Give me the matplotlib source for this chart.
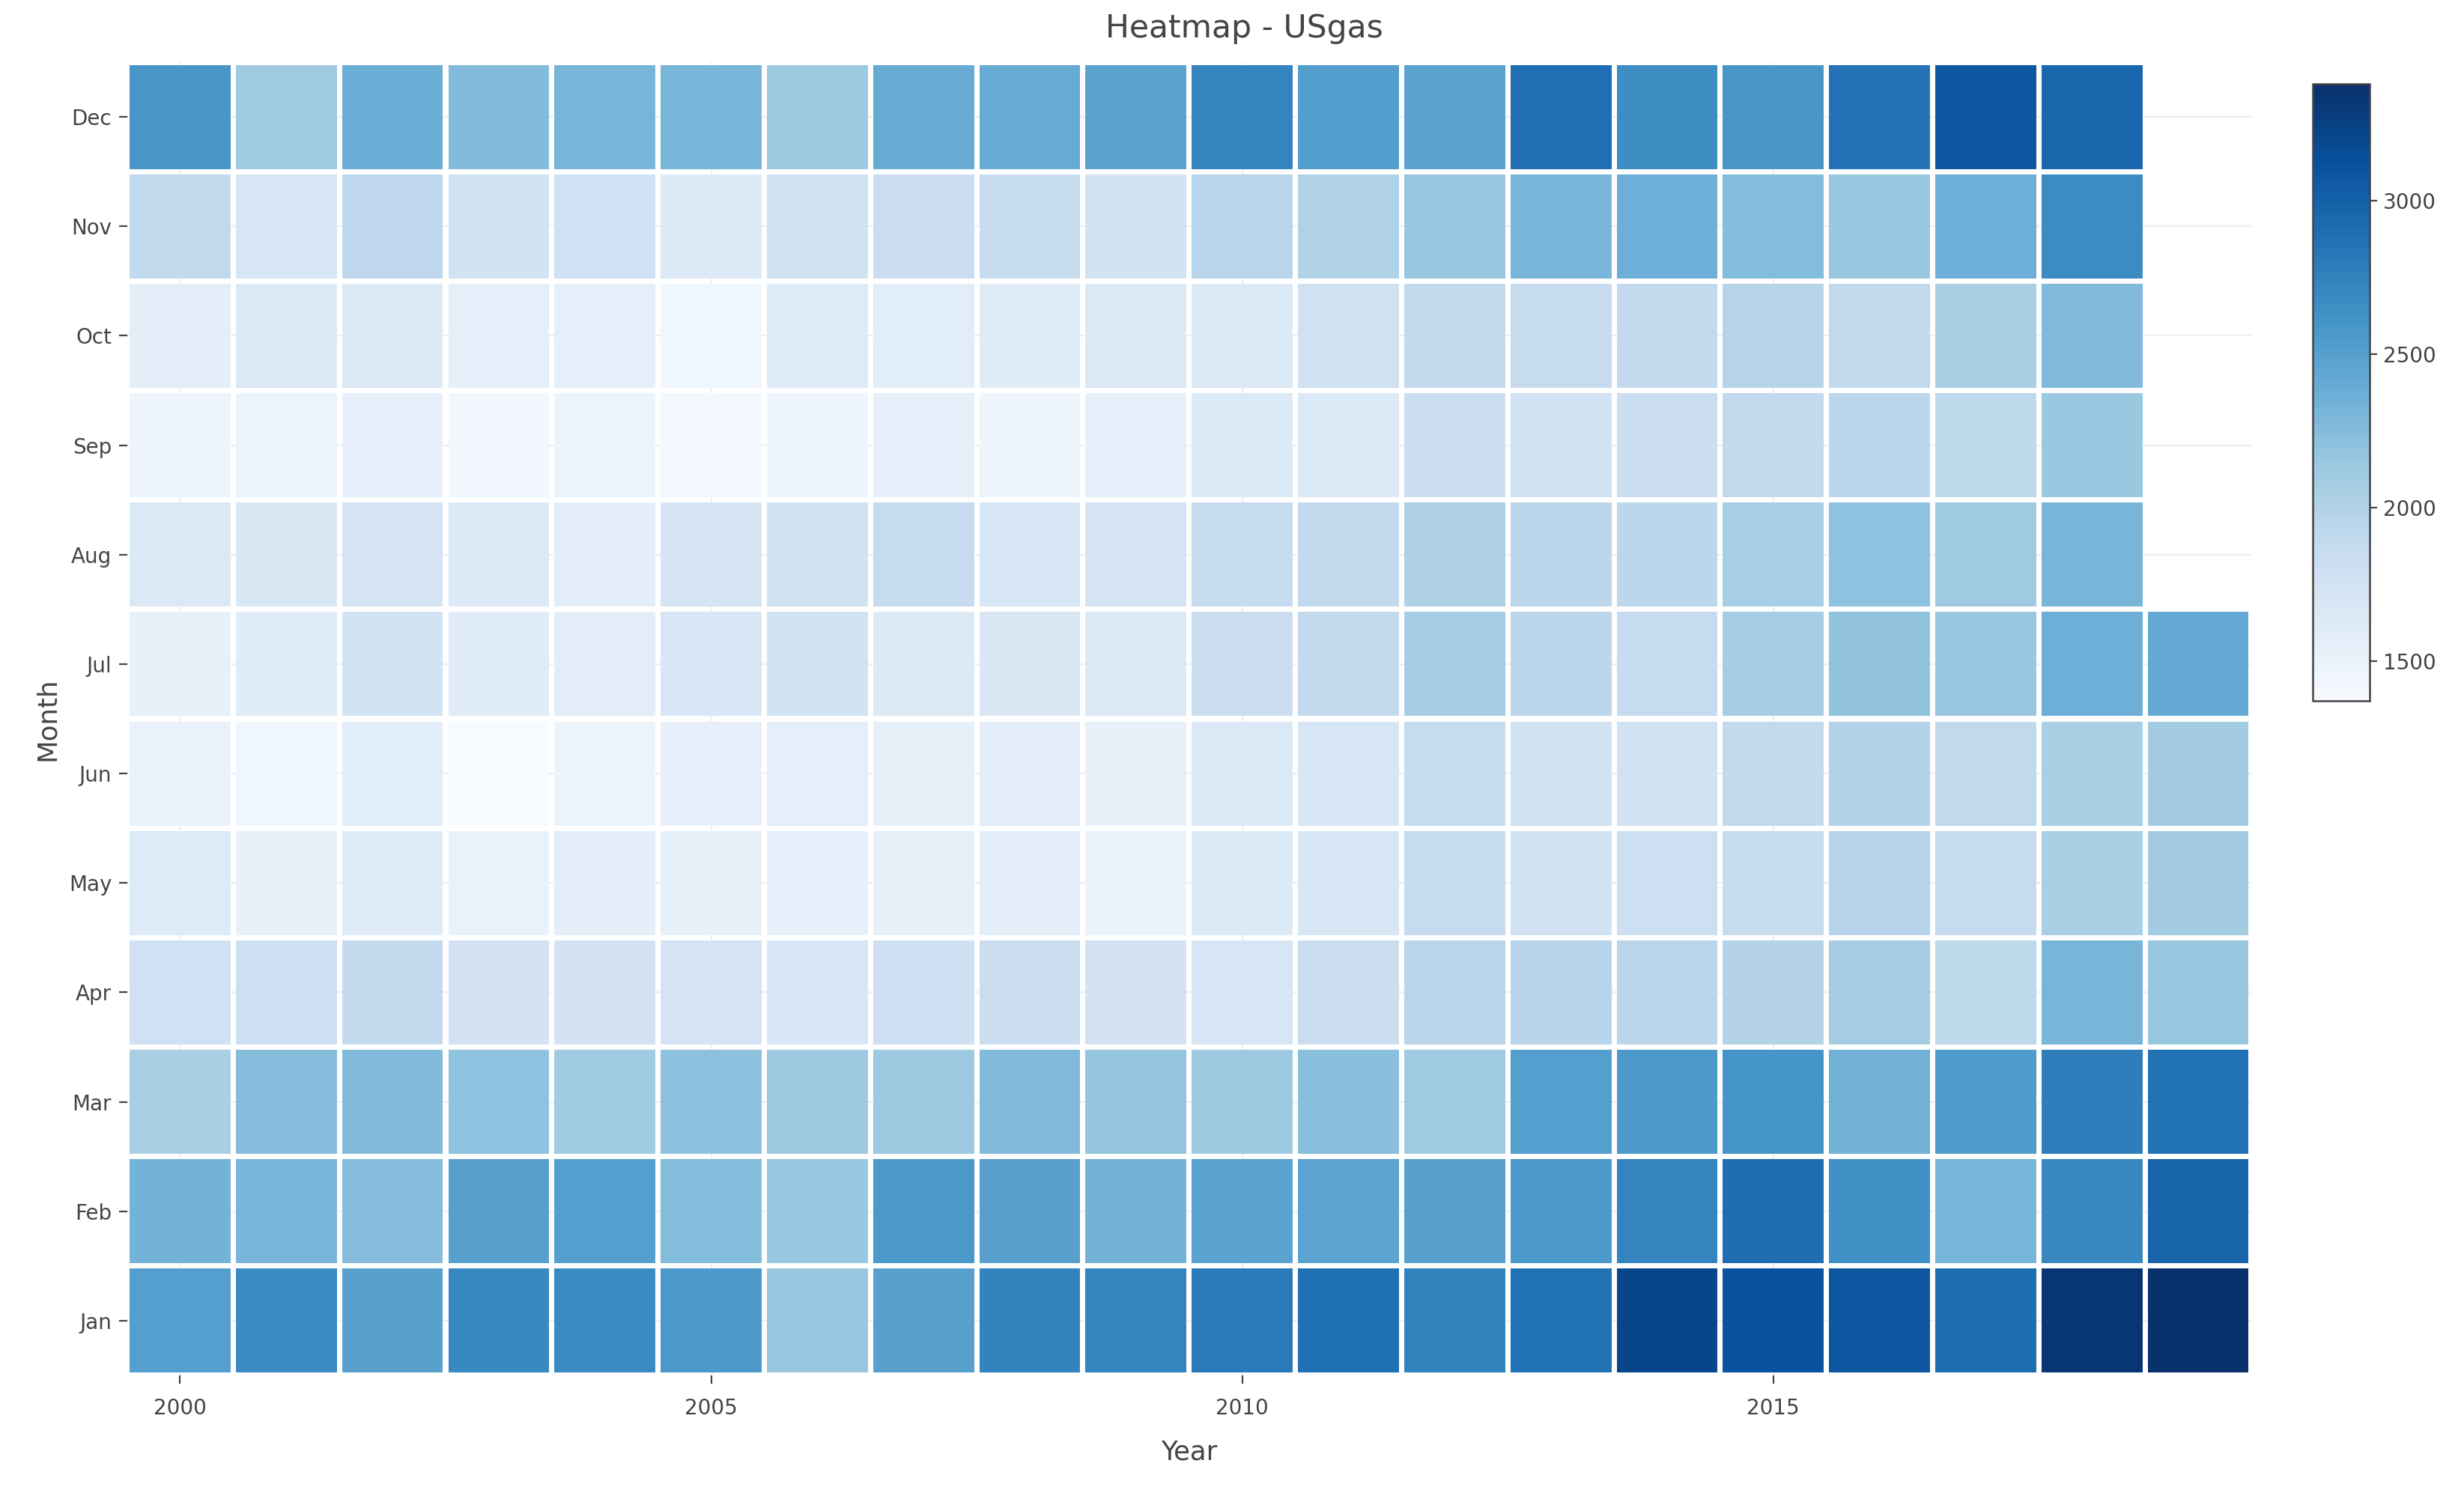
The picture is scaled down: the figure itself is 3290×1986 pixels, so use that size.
import numpy as np
import matplotlib
matplotlib.use("Agg")
import matplotlib.pyplot as plt
from matplotlib.colors import Normalize
from matplotlib.cm import ScalarMappable

# ---------------- data (USgas, monthly consumption) ----------------
years = list(range(2000, 2020))
months = ["Jan", "Feb", "Mar", "Apr", "May", "Jun",
          "Jul", "Aug", "Sep", "Oct", "Nov", "Dec"]
nan = np.nan
jan = [2510, 2677, 2488, 2700, 2676, 2570, 2150, 2490, 2740, 2730,
       2810, 2880, 2750, 2870, 3220, 3120, 3080, 2900, 3330, 3380]
feb = [2331, 2310, 2242, 2500, 2511, 2250, 2140, 2570, 2500, 2330,
       2480, 2470, 2500, 2570, 2730, 2900, 2640, 2320, 2710, 2970]
mar = [2051, 2247, 2258, 2198, 2103, 2210, 2130, 2130, 2270, 2170,
       2130, 2230, 2120, 2510, 2560, 2600, 2350, 2540, 2780, 2870]
apr = [1783, 1807, 1881, 1744, 1745, 1730, 1690, 1790, 1830, 1740,
       1700, 1830, 1960, 1970, 1950, 1990, 2090, 1920, 2320, 2160]
may = [1633, 1522, 1612, 1515, 1573, 1530, 1540, 1545, 1575, 1510,
       1640, 1690, 1880, 1760, 1800, 1860, 1970, 1880, 2060, 2100]
jun = [1513, 1444, 1591, 1370, 1484, 1540, 1560, 1550, 1580, 1520,
       1660, 1690, 1880, 1760, 1760, 1900, 2000, 1910, 2060, 2100]
jul = [1526, 1598, 1748, 1601, 1585, 1690, 1750, 1640, 1680, 1650,
       1830, 1890, 2080, 1940, 1880, 2080, 2190, 2140, 2360, 2420]
aug = [1653, 1669, 1726, 1652, 1578, 1720, 1760, 1880, 1690, 1730,
       1880, 1895, 2030, 1940, 1940, 2075, 2200, 2120, 2310, nan]
sep = [1475, 1494, 1542, 1429, 1482, 1420, 1470, 1560, 1460, 1540,
       1650, 1650, 1810, 1760, 1830, 1890, 1940, 1920, 2140, nan]
oct_ = [1568, 1649, 1646, 1553, 1556, 1450, 1630, 1590, 1620, 1660,
        1660, 1770, 1890, 1870, 1890, 1980, 1910, 2050, 2270, nan]
nov = [1909, 1701, 1914, 1754, 1786, 1650, 1760, 1820, 1860, 1750,
       1960, 2010, 2150, 2300, 2360, 2250, 2150, 2365, 2670, nan]
dec = [2588, 2120, 2379, 2264, 2310, 2310, 2130, 2400, 2400, 2480,
       2730, 2520, 2480, 2890, 2650, 2590, 2860, 3070, 2950, nan]
rows = [jan, feb, mar, apr, may, jun, jul, aug, sep, oct_, nov, dec]

x_ticks = [2000, 2005, 2010, 2015]
cbar_ticks = [1500, 2000, 2500, 3000]

# ---------------- figure ----------------
plt.rcParams["font.family"] = ["DejaVu Sans"]
TXT = "#444444"
W, H, DPI = 3290, 1986, 200
fig = plt.figure(figsize=(W / DPI, H / DPI), dpi=DPI)
fig.patch.set_facecolor("white")

L, R, T, B = 169.5, 3006, 83, 1837
ax = fig.add_axes([L / W, 1 - B / H, (R - L) / W, (B - T) / H])

allv = np.array(rows, dtype=float)
norm = Normalize(vmin=np.nanmin(allv), vmax=np.nanmax(allv))
cmap = plt.get_cmap("Blues")

cw, ch = 0.95, 0.952
for m, vals in enumerate(rows):
    vals = np.asarray(vals, dtype=float)
    ok = ~np.isnan(vals)
    xs = np.array(years)[ok]
    ax.bar(xs, ch, width=cw, bottom=m - ch / 2, color=cmap(norm(vals[ok])),
           linewidth=0, zorder=2)

ax.set_xlim(1999.5, 2019.5)
ax.set_ylim(-0.5, 11.5)
ax.set_xticks(x_ticks)
ax.set_xticklabels([str(t) for t in x_ticks])
ax.set_yticks(range(12))
ax.set_yticklabels(months)
ax.grid(True, color="#eeeeee", linewidth=0.8, zorder=0)
ax.set_axisbelow(True)
for s in ax.spines.values():
    s.set_visible(False)
ax.tick_params(axis="both", colors=TXT, labelsize=10, length=3.8, width=0.8,
               direction="out")
ax.tick_params(axis="x", pad=7)
ax.tick_params(axis="y", pad=3.5)

fig.text((L + R) / 2 / W, 1 - 1939 / H, "Year", ha="center",
         va="center", fontsize=12.8, color=TXT)
fig.text(63 / W, 1 - (T + B) / 2 / H, "Month", ha="center", va="center",
         rotation=90, fontsize=12.8, color=TXT)
fig.text(0.505, 1 - 38 / H, "Heatmap - USgas", ha="center", va="center",
         fontsize=15.3, color=TXT)

# ---------------- colorbar ----------------
cax = fig.add_axes([3088 / W, 1 - 936 / H, 76 / W, (936 - 112) / H])
sm = ScalarMappable(norm=norm, cmap=cmap)
cb = fig.colorbar(sm, cax=cax, ticks=cbar_ticks)
cb.outline.set_edgecolor(TXT)
cb.outline.set_linewidth(0.9)
cax.tick_params(colors=TXT, labelsize=10, length=3.5, width=0.8, pad=3)

fig.savefig("out.png", dpi=DPI, facecolor="white")
